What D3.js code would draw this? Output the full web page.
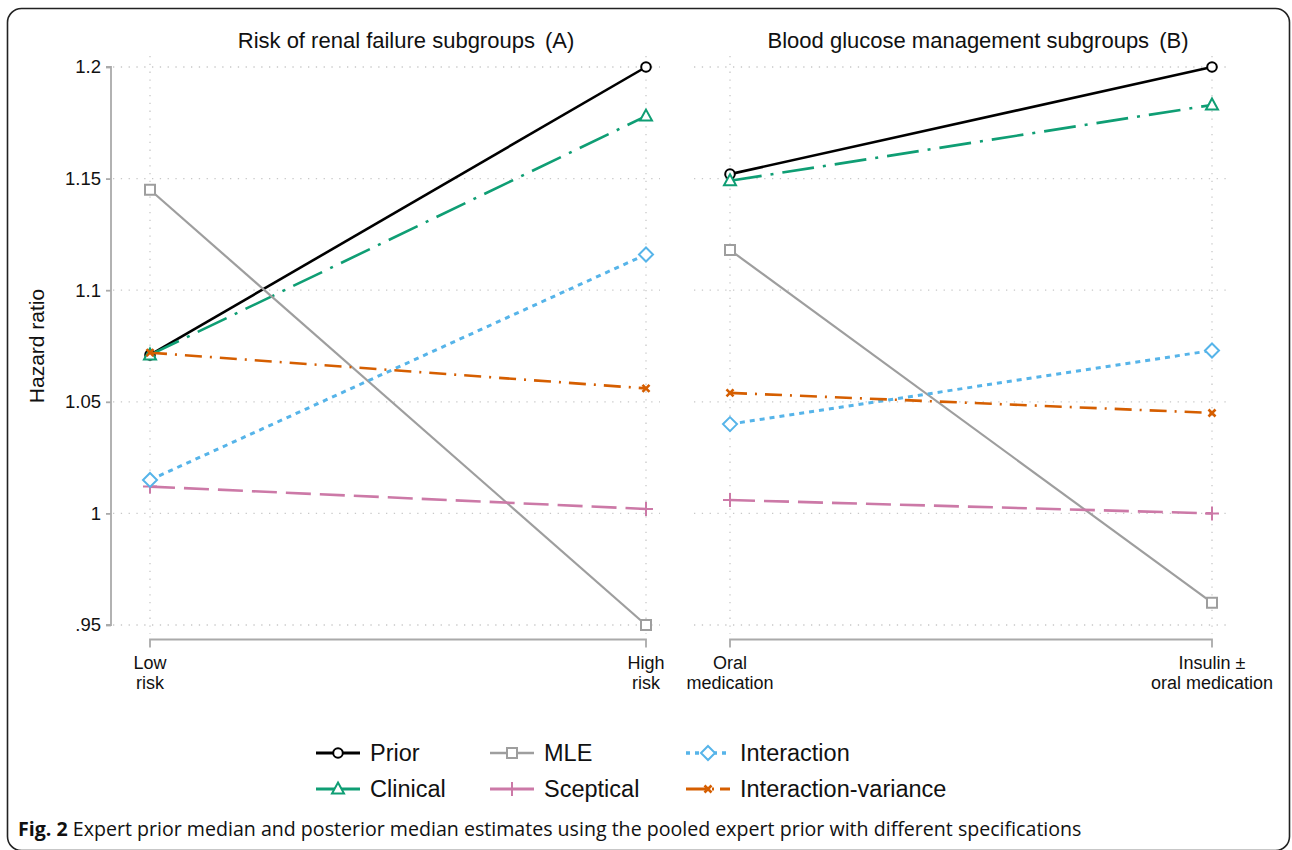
<!DOCTYPE html>
<html><head><meta charset="utf-8">
<script src="https://cdn.jsdelivr.net/npm/d3@7"></script>
<style>body{margin:0;background:#fff;} svg{display:block;}</style>
</head><body>
<svg id="chart" width="1292" height="850"></svg>
<script>
const panelTitles = ["Risk of renal failure subgroups", "Blood glucose management subgroups"];
const panelLetters = ["(A)", "(B)"];
const categoriesA = [["Low","risk"],["High","risk"]];
const categoriesB = [["Oral","medication"],["Insulin ±","oral medication"]];
const seriesNames = ["Prior","Clinical","MLE","Sceptical","Interaction","Interaction-variance"];
const valuesA = {
  "Prior":[1.071,1.200],
  "Clinical":[1.071,1.178],
  "MLE":[1.145,0.950],
  "Sceptical":[1.012,1.002],
  "Interaction":[1.015,1.116],
  "Interaction-variance":[1.072,1.056]
};
const valuesB = {
  "Prior":[1.152,1.200],
  "Clinical":[1.149,1.183],
  "MLE":[1.118,0.960],
  "Sceptical":[1.006,1.000],
  "Interaction":[1.040,1.073],
  "Interaction-variance":[1.054,1.045]
};
const yTicks = [0.95,1,1.05,1.1,1.15,1.2];
const yTickLabels = [".95","1","1.05","1.1","1.15","1.2"];

const styles = {
  "Prior":{color:"#000000",dash:null,width:2.6,marker:"circle"},
  "Clinical":{color:"#0f9e74",dash:"32,9,3,9",width:2.6,marker:"triangle"},
  "MLE":{color:"#9e9e9e",dash:null,width:2.2,marker:"square"},
  "Sceptical":{color:"#cc79a7",dash:"25,9",width:2.6,marker:"plus"},
  "Interaction":{color:"#56b4e9",dash:"5,5",width:3,marker:"diamond"},
  "Interaction-variance":{color:"#d55e00",dash:"17,8,2,8",width:2.6,marker:"x"}
};

const svg = d3.select("#chart");
const font = "'Liberation Sans', Arial, sans-serif";

svg.append("rect").attr("x",7.5).attr("y",8.5).attr("width",1282).attr("height",842)
  .attr("rx",14).attr("fill","none").attr("stroke","#222").attr("stroke-width",1.6);

const y = d3.scaleLinear().domain([0.95,1.2]).range([625,67]);

const panels = [
  {cats:categoriesA, vals:valuesA, x0:111, x1:660, cx:[150,646], titleX:406},
  {cats:categoriesB, vals:valuesB, x0:692, x1:1227, cx:[730,1212], titleX:978}
];

function markerPath(type){
  switch(type){
    case "triangle": return `M0,-6.5L6,4.5L-6,4.5Z`;
    case "square": return `M-5,-5H5V5H-5Z`;
    case "diamond": return `M0,-7L7,0L0,7L-7,0Z`;
    case "plus": return `M-7,0H7M0,-7V7`;
    case "x": return `M-3.5,-3.5L3.5,3.5M-3.5,3.5L3.5,-3.5`;
  }
}
function drawMarker(g, type, color, cx, cy){
  if(type==="circle"){
    g.append("circle").attr("cx",cx).attr("cy",cy).attr("r",4.8)
      .attr("fill","#fff").attr("stroke",color).attr("stroke-width",2);
  } else {
    const open = (type==="plus"||type==="x");
    g.append("path").attr("d",markerPath(type)).attr("transform",`translate(${cx},${cy})`)
      .attr("fill", open?"none":"#fff").attr("stroke",color).attr("stroke-width", type==="x"?2.6:2);
  }
}

panels.forEach((p,pi)=>{
  const x = d3.scalePoint().domain([0,1]).range(p.cx);
  const g = svg.append("g");
  yTicks.forEach(t=>{
    g.append("line").attr("x1",p.x0+2).attr("x2",p.x1).attr("y1",y(t)).attr("y2",y(t))
      .attr("stroke","#c8c8c8").attr("stroke-width",1.3).attr("stroke-dasharray","1.3,6.5");
  });
  [0,1].forEach(i=>{
    g.append("line").attr("x1",x(i)).attr("x2",x(i)).attr("y1",56).attr("y2",634)
      .attr("stroke","#c8c8c8").attr("stroke-width",1.3).attr("stroke-dasharray","1.3,6.5");
  });
  const tt = g.append("text").attr("x",p.titleX).attr("y",48).attr("text-anchor","middle")
    .attr("font-family",font).attr("font-size",22).attr("fill","#111");
  tt.append("tspan").text(panelTitles[pi]);
  tt.append("tspan").attr("dx",10).text(panelLetters[pi]);
  const xa = g.append("g").attr("transform","translate(0,639.5)")
    .call(d3.axisBottom(x).tickSize(8).tickFormat(""));
  xa.select(".domain").attr("stroke","#aaa").attr("stroke-width",1.8).attr("d",`M${p.cx[0]},8V0H${p.cx[1]}V8`);
  xa.selectAll(".tick line").remove();
  p.cats.forEach((c,i)=>{
    const t = g.append("text").attr("x",x(i)).attr("y",669).attr("text-anchor","middle")
      .attr("font-family",font).attr("font-size",18).attr("fill","#111");
    t.append("tspan").attr("x",x(i)).attr("dy",0).text(c[0]);
    t.append("tspan").attr("x",x(i)).attr("dy",19.5).text(c[1]);
  });
  seriesNames.forEach(name=>{
    const st = styles[name];
    const v = p.vals[name];
    const line = d3.line().x((d,i)=>x(i)).y(d=>y(d));
    g.append("path").datum(v).attr("d",line).attr("fill","none")
      .attr("stroke",st.color).attr("stroke-width",st.width)
      .attr("stroke-dasharray",st.dash);
    v.forEach((d,i)=>drawMarker(g, st.marker, st.color, x(i), y(d)));
  });
});

const ya = svg.append("g").attr("transform","translate(111,0)")
  .call(d3.axisLeft(y).tickValues(yTicks).tickSize(5).tickPadding(5)
    .tickFormat((d,i)=>yTickLabels[i]));
ya.select(".domain").attr("stroke","#aaa").attr("stroke-width",1.8).attr("d","M-5,67H0V625H-5");
ya.selectAll(".tick line").attr("stroke","#aaa").attr("stroke-width",1.8);
ya.selectAll(".tick text").attr("font-family",font).attr("font-size",18.5).attr("fill","#111");

svg.append("text").attr("transform","translate(44,346) rotate(-90)").attr("text-anchor","middle")
  .attr("font-family",font).attr("font-size",21).attr("fill","#111").text("Hazard ratio");

const legendPos = [[316,753],[316,789],[490,753],[490,789],[686,753],[686,789]];
const legendDash = {"Prior":null,"Clinical":null,"MLE":null,"Sceptical":null,"Interaction":"4,5","Interaction-variance":"20,6,2,6"};
seriesNames.forEach((name,i)=>{
  const st = styles[name];
  const [lx,ly] = legendPos[i];
  const lg = svg.append("g");
  lg.append("line").attr("x1",lx).attr("x2",lx+44).attr("y1",ly).attr("y2",ly)
    .attr("stroke",st.color).attr("stroke-width",st.width+0.4)
    .attr("stroke-dasharray", legendDash[name]);
  drawMarker(lg, st.marker, st.color, lx+22, ly);
  lg.append("text").attr("x",lx+54).attr("y",ly+8).attr("font-family",font).attr("font-size",23.5)
    .attr("fill","#111").text(name);
});

const cap = svg.append("text").attr("x",18).attr("y",836).attr("font-family","'Open Sans', sans-serif")
  .attr("font-size",19.6).attr("fill","#111");
cap.append("tspan").attr("font-weight","bold").text("Fig. 2");
cap.append("tspan").text(" Expert prior median and posterior median estimates using the pooled expert prior with different specifications");
</script>
</body></html>
